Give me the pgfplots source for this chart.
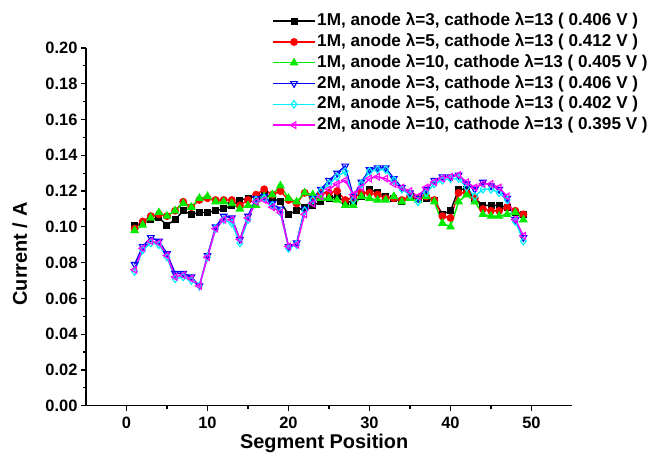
\documentclass[border=0pt]{standalone}
\usepackage{fontspec}
\setmainfont{Liberation Sans}
\usepackage{pgfplots}
\pgfplotsset{compat=1.18}
\usepackage{pgfplotstable}
\definecolor{cgreen}{RGB}{0,235,0}
\definecolor{cred}{RGB}{255,0,0}
\definecolor{cblue}{RGB}{0,0,255}
\definecolor{ccyan}{RGB}{0,240,255}
\definecolor{cmag}{RGB}{255,0,255}
\pgfplotstableread{
x  a      b      c      d      e      f
1  0.101  0.099  0.098  0.079  0.075  0.076
2  0.102  0.103  0.101  0.089  0.087  0.088
3  0.104  0.106  0.105  0.094  0.091  0.092
4  0.105  0.107  0.108  0.092  0.090  0.091
5  0.101  0.106  0.106  0.085  0.083  0.084
6  0.104  0.109  0.109  0.074  0.071  0.072
7  0.109  0.114  0.113  0.074  0.072  0.073
8  0.107  0.111  0.111  0.072  0.070  0.071
9  0.108  0.115  0.116  0.067  0.067  0.067
10 0.108  0.116  0.117  0.084  0.083  0.083
11 0.109  0.115  0.114  0.100  0.099  0.099
12 0.110  0.115  0.114  0.106  0.104  0.104
13 0.112  0.115  0.113  0.105  0.102  0.104
14 0.115  0.112  0.110  0.093  0.091  0.093
15 0.116  0.115  0.112  0.106  0.104  0.105
16 0.117  0.118  0.112  0.116  0.115  0.114
17 0.118  0.121  0.117  0.117  0.116  0.115
18 0.116  0.118  0.118  0.113  0.112  0.111
19 0.114  0.120  0.123  0.110  0.108  0.108
20 0.107  0.115  0.116  0.089  0.088  0.089
21 0.109  0.113  0.114  0.091  0.090  0.090
22 0.111  0.119  0.119  0.110  0.109  0.107
23 0.112  0.116  0.118  0.116  0.115  0.113
24 0.114  0.119  0.116  0.121  0.120  0.117
25 0.116  0.119  0.116  0.126  0.124  0.121
26 0.117  0.120  0.115  0.130  0.128  0.124
27 0.114  0.115  0.112  0.134  0.131  0.126
28 0.114  0.116  0.112  0.117  0.115  0.118
29 0.117  0.119  0.117  0.125  0.124  0.122
30 0.121  0.119  0.116  0.132  0.131  0.127
31 0.119  0.118  0.115  0.133  0.132  0.128
32 0.117  0.116  0.115  0.133  0.132  0.127
33 0.116  0.116  0.117  0.127  0.126  0.124
34 0.114  0.115  0.114  0.122  0.121  0.122
35 0.117  0.117  0.116  0.119  0.118  0.120
36 0.116  0.116  0.115  0.116  0.114  0.117
37 0.116  0.117  0.117  0.121  0.119  0.122
38 0.115  0.115  0.114  0.126  0.124  0.125
39 0.107  0.106  0.102  0.128  0.126  0.127
40 0.109  0.105  0.100  0.128  0.127  0.128
41 0.121  0.119  0.114  0.129  0.127  0.129
42 0.121  0.119  0.118  0.124  0.122  0.125
43 0.116  0.116  0.114  0.121  0.117  0.122
44 0.112  0.110  0.107  0.125  0.121  0.124
45 0.112  0.109  0.106  0.123  0.121  0.124
46 0.112  0.109  0.106  0.121  0.119  0.122
47 0.111  0.111  0.107  0.116  0.115  0.117
48 0.108  0.109  0.108  0.104  0.103  0.104
49 0.107  0.107  0.104  0.094  0.092  0.095
}\data
\begin{document}
\begin{tikzpicture}
\begin{axis}[
  at={(0,0)}, anchor=south west,
  scale only axis, width=486bp, height=357.7bp,
  xmin=-5, xmax=55, ymin=0, ymax=0.2,
  axis x line*=bottom, axis y line*=left,
  axis line style={line width=1.3bp, -},
  xtick={0,10,20,30,40,50}, minor x tick num=1,
  ytick={0,0.02,0.04,0.06,0.08,0.1,0.12,0.14,0.16,0.18,0.2}, minor y tick num=1,
  tick align=outside,
  major tick length=5bp, minor tick length=3bp,
  tick style={line width=1.2bp, black},
  /pgf/number format/assume math mode=true,
  tick label style={font=\fontsize{16.5}{16.5}\selectfont\bfseries},
  xticklabel style={inner sep=1bp, yshift=-5bp},
  yticklabel style={/pgf/number format/.cd, fixed, fixed zerofill, precision=2},
  xlabel={Segment Position},
  ylabel={Current / A},
  label style={font=\fontsize{20}{20}\selectfont\bfseries},
  xlabel style={at={(axis description cs:0.49,-0.1200)}, anchor=base, inner sep=1bp},
  ylabel style={at={(axis description cs:-0.136,0.424)}, anchor=center},
  legend style={at={(rel axis cs:0.383,1.098)}, anchor=north west, draw=none, fill=none,
    inner sep=0pt, row sep=4.7bp,
    font=\fontsize{17.2}{17.2}\selectfont\bfseries,
    nodes={inner xsep=1.5bp, inner ysep=0pt, text height=12.5bp, text depth=3.6bp}},
  legend cell align=left,
  legend image code/.code={\draw[mark repeat=2, mark phase=2] plot coordinates {(0bp,0bp) (21bp,0bp) (42bp,0bp)};},
  every axis plot/.append style={line width=1.4bp},
]
\addplot[black, mark=square*, mark size=2.8bp, mark options={solid}] table[x=x,y=a] {\data};
\addlegendentry{1M, anode λ=3, cathode λ=13 ( 0.406 V )}
\addplot[cred, mark=*, mark size=3.2bp] table[x=x,y=b] {\data};
\addlegendentry{1M, anode λ=5, cathode λ=13 ( 0.412 V )}
\addplot[cgreen, mark=triangle*, mark size=3.8bp] table[x=x,y=c] {\data};
\addlegendentry{1M, anode λ=10, cathode λ=13 ( 0.405 V )}
\addplot[cblue, mark=triangle, mark size=3.8bp, mark options={rotate=180, fill=white, line width=1.1bp}] table[x=x,y=d] {\data};
\addlegendentry{2M, anode λ=3, cathode λ=13 ( 0.406 V )}
\addplot[ccyan, mark=diamond, mark size=3.8bp, mark options={fill=white, line width=1.1bp}] table[x=x,y=e] {\data};
\addlegendentry{2M, anode λ=5, cathode λ=13 ( 0.402 V )}
\addplot[cmag, mark=triangle, mark size=3.8bp, mark options={rotate=90, fill=white, line width=1.1bp}] table[x=x,y=f] {\data};
\addlegendentry{2M, anode λ=10, cathode λ=13 ( 0.395 V )}
\end{axis}
\pgfresetboundingbox
\path[use as bounding box] (-86bp,-53.3bp) rectangle (563bp,405.7bp);
\end{tikzpicture}
\end{document}
